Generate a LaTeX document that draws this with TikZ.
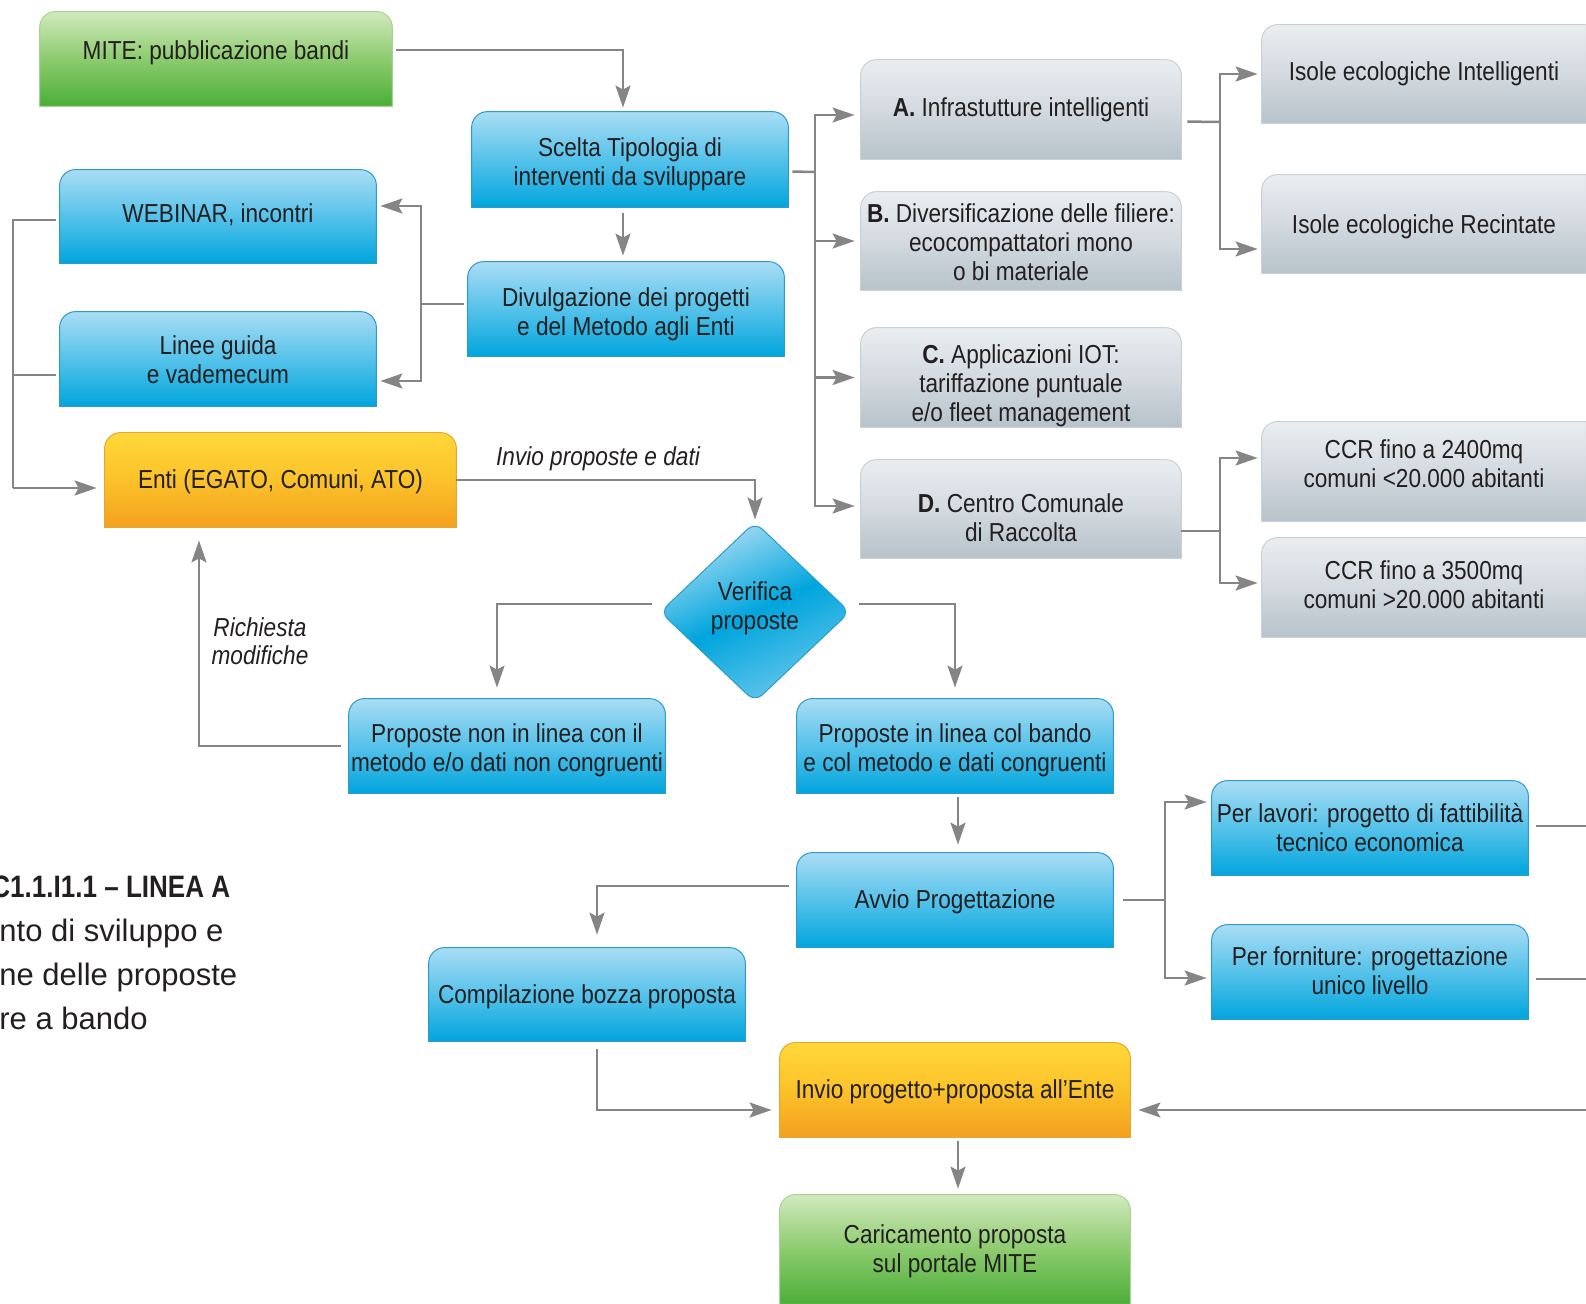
\documentclass[tikz,border=0pt]{standalone}
\usepackage{fontspec}
\setmainfont{Liberation Sans}[FakeStretch=0.87]
\newfontfamily\titlefont{Liberation Sans}
\newfontfamily\titleboldfont{Liberation Sans Bold}[FakeStretch=0.84]
\usetikzlibrary{shapes.geometric,arrows.meta,backgrounds,calc}
\definecolor{bluetop}{HTML}{AADDF4}
\definecolor{bluemid}{HTML}{55C2EA}
\definecolor{bluebot}{HTML}{00A5DD}
\definecolor{blueline}{HTML}{2C9CCB}
\definecolor{greentop}{HTML}{D2EABE}
\definecolor{greenmid}{HTML}{8CCB6E}
\definecolor{greenbot}{HTML}{4BAE38}
\definecolor{greenline}{HTML}{A9D294}
\definecolor{orangetop}{HTML}{FFD83A}
\definecolor{orangemid}{HTML}{FBC22A}
\definecolor{orangebot}{HTML}{F4A01F}
\definecolor{orangeline}{HTML}{E8A62A}
\definecolor{graytop}{HTML}{EAEEF1}
\definecolor{graymid}{HTML}{D3DAE0}
\definecolor{graybot}{HTML}{B7C2CA}
\definecolor{grayline}{HTML}{C9D0D6}
\definecolor{wiregray}{HTML}{858585}
\definecolor{ink}{HTML}{231F20}
\newcommand\tabshape[2]{%
  \path[#2] (#1.south west) -- ([yshift=-8pt]#1.north west)
    arc[start angle=180,end angle=90,radius=8pt]
    -- ([xshift=-8pt]#1.north east)
    arc[start angle=90,end angle=0,radius=8pt]
    -- (#1.south east) -- cycle;}
\newcommand\edgeshape[2]{%
  \path[#2] (#1.south west) -- ([yshift=-8pt]#1.north west)
    arc[start angle=180,end angle=90,radius=8pt]
    -- (#1.north east) -- (#1.south east) -- cycle;}
% struts for a text: #1 = offset in px (positive moves text down)
\newcommand\setstruts[1]{%
  \pgfmathparse{9.6+max(#1,0)}\xdef\myH{\pgfmathresult}%
  \pgfmathparse{2.9+max(-(#1),0)}\xdef\myD{\pgfmathresult}}
\newcommand\sttext[1]{\rule{0pt}{\myH pt}#1\rule[-\myD pt]{0pt}{\myD pt}}
% box node: [offset], name, x1, y1, x2, y2 (pixels), text
\newcommand\bx[7][0]{%
  \setstruts{#1}%
  \node[txt, minimum width={(#5-#3)*0.5pt}, minimum height={(#6-#4)*0.5pt}]
    (#2) at ({(#3+#5)/2},{(#4+#6)/2}) {\sttext{#7}};}
\tikzset{
  txt/.style={inner sep=0pt, align=center, text=ink, font=\fontsize{13}{14.5}\selectfont},
  lbl/.style={inner sep=0pt, align=center, text=ink, font=\fontsize{13}{14}\selectfont\itshape},
  bluefill/.style={top color=bluetop, bottom color=bluebot, middle color=bluemid, draw=blueline, line width=0.5pt},
  greenfill/.style={top color=greentop, bottom color=greenbot, middle color=greenmid, draw=greenline, line width=0.5pt},
  orangefill/.style={top color=orangetop, bottom color=orangebot, middle color=orangemid, draw=orangeline, line width=0.5pt},
  grayfill/.style={top color=graytop, bottom color=graybot, middle color=graymid, draw=grayline, line width=0.5pt},
  wire/.style={draw=wiregray, line width=1.25pt},
  conn/.style={wire, -{Stealth[length=11pt,width=7.5pt,inset=2pt]}},
  title/.style={anchor=base west, inner sep=0pt, text=ink, font=\titlefont\fontsize{15.5}{22}\selectfont},
}
\begin{document}
\begin{tikzpicture}[x=0.5pt,y=-0.5pt]
\useasboundingbox (0,0) rectangle (1586,1304);
% ---------- nodes ----------
\bx[-6]{mite}{40}{12}{392}{106}{MITE: pubblicazione bandi}
\bx[5]{scelta}{472}{112}{788}{207}{Scelta Tipologia di\\interventi da sviluppare}
\bx[-1]{webinar}{60}{170}{376}{263}{WEBINAR, incontri}
\bx[5]{divulg}{468}{262}{784}{356}{Divulgazione dei progetti\\e del Metodo agli Enti}
\bx[3]{linee}{60}{312}{376}{406}{Linee guida\\e vademecum}
\bx[2]{enti}{105}{433}{456}{527}{Enti (EGATO, Comuni, ATO)}
\bx{opA}{861}{60}{1181}{159}{\textbf{A.} Infrastutture intelligenti}
\bx[4]{opB}{861}{192}{1181}{290}{\textbf{B.} Diversificazione delle filiere:\\ecocompattatori mono\\o bi materiale}
\bx[8]{opC}{861}{328}{1181}{427}{\textbf{C.} Applicazioni IOT:\\tariffazione puntuale\\e/o fleet management}
\bx[11]{opD}{861}{460}{1181}{558}{\textbf{D.} Centro Comunale\\di Raccolta}
\bx{isoleI}{1262}{25}{1586}{123}{Isole ecologiche Intelligenti}
\bx[3]{isoleR}{1262}{175}{1586}{273}{Isole ecologiche Recintate}
\bx[-5]{ccrA}{1262}{422}{1586}{521}{CCR fino a 2400mq\\comuni <20.000 abitanti}
\bx{ccrB}{1262}{538}{1586}{637}{CCR fino a 3500mq\\comuni >20.000 abitanti}
\setstruts{-4}
\node[txt, diamond, minimum width=95pt, minimum height=90pt, rounded corners=5pt,
  draw=blueline, line width=0.5pt, top color=bluetop, bottom color=bluetop!60!bluebot,
  middle color=bluebot, shading angle=25] (verifica) at (755,612) {\sttext{Verifica\\proposte}};
\bx[4]{pnon}{349}{699}{665}{793}{Proposte non in linea con il\\metodo e/o dati non congruenti}
\bx[4]{pin}{797}{699}{1113}{793}{Proposte in linea col bando\\e col metodo e dati congruenti}
\bx[2]{avvio}{797}{853}{1113}{947}{Avvio Progettazione}
\bx[2]{compil}{429}{948}{745}{1041}{Compilazione bozza proposta}
\bx[2]{lavori}{1212}{781}{1528}{875}{Per lavori: progetto di fattibilità\\tecnico economica}
\bx[1.5]{forniture}{1212}{925}{1528}{1019}{Per forniture: progettazione\\unico livello}
\bx[2]{invio}{780}{1043}{1130}{1137}{Invio progetto+proposta all’Ente}
\bx[1.5]{carica}{780}{1195}{1130}{1304}{Caricamento proposta\\sul portale MITE}
% labels
\node[lbl] (lInvio) at (598,459) {Invio proposte e dati};
\node[lbl] (lRich) at (260,641) {Richiesta\\modifiche};
% title text (cropped at the left edge in the reference)
\begin{scope}
\clip (0,800) rectangle (400,1060);
\node[title, font=\titleboldfont\fontsize{15.5}{22}\selectfont] (t1) at (-9,897) {C1.1.I1.1 – LINEA A};
\node[title] (t2) at (-1,941) {nto di sviluppo e};
\node[title] (t3) at (-1,985) {ne delle proposte};
\node[title] (t4) at (-1,1029) {re a bando};
\end{scope}
% ---------- box backgrounds ----------
\begin{pgfonlayer}{background}
\foreach \n in {scelta,webinar,divulg,linee,pnon,pin,avvio,compil,lavori,forniture} {\tabshape{\n}{bluefill}}
\foreach \n in {mite,carica} {\tabshape{\n}{greenfill}}
\foreach \n in {enti,invio} {\tabshape{\n}{orangefill}}
\foreach \n in {opA,opB,opC,opD} {\tabshape{\n}{grayfill}}
\foreach \n in {isoleI,isoleR,ccrA,ccrB} {\edgeshape{\n}{grayfill}}
\end{pgfonlayer}
% ---------- connectors ----------
\coordinate (sb) at (815,172);
\coordinate (ab) at (1220,122);
\coordinate (db) at (1220,531);
\coordinate (vb) at (421,304);
\coordinate (lb) at (13,488);
\coordinate (pb) at (1165,900);
\coordinate (e1) at (1586,826);
\coordinate (e2) at (1586,979);
\coordinate (e3) at (1586,1110);
\draw[conn, shorten <=2pt, shorten >=2pt] ([yshift=4.5pt]mite.east) -| ([xshift=-3.5pt]scelta.north);
\draw[conn, shorten <=3pt, shorten >=3pt] ([xshift=-3.5pt]scelta.south) -- ([xshift=-3.5pt]scelta.south |- divulg.north);
\draw[wire, shorten <=2pt] ([yshift=-6pt]scelta.east) -- (sb);
\draw[conn, shorten >=3pt] (sb) |- ([yshift=-2.75pt]opA.west);
\draw[conn, shorten >=3pt] (sb) |- (opB.west);
\draw[conn, shorten >=3pt] (sb) |- (opC.west);
\draw[conn, shorten >=3pt] (sb) |- ([yshift=1.5pt]opD.west);
\draw[wire, shorten <=3pt] ([yshift=-6pt]opA.east) -- (ab);
\draw[conn, shorten >=2pt] (ab) |- ([yshift=0pt]isoleI.west);
\draw[conn, shorten >=2pt] (ab) |- ([yshift=-12.5pt]isoleR.west);
\draw[wire] ([yshift=-11pt]opD.east) -- (db);
\draw[conn, shorten >=2pt] (db) |- ([yshift=6.75pt]ccrA.west);
\draw[conn, shorten >=2pt] (db) |- ([yshift=2.25pt]ccrB.west);
\draw[wire, shorten <=2pt] ([yshift=2.5pt]divulg.west) -- (vb);
\draw[conn, shorten >=2pt] (vb) |- ([yshift=5.25pt]webinar.east);
\draw[conn, shorten >=2pt] (vb) |- ([yshift=-11pt]linee.east);
\draw[wire, shorten <=2pt] ([yshift=-1.75pt]webinar.west) -| (lb);
\draw[wire, shorten <=2pt] ([yshift=-8pt]linee.west) -| (lb);
\draw[conn, shorten >=4pt] (lb) -- ([yshift=-4pt]enti.west);
\draw[conn, shorten >=1pt] (enti.east) -| (verifica.north);
\draw[conn, shorten <=4pt, shorten >=5.5pt] ([yshift=4pt]verifica.west) -| ([xshift=-5pt]pnon.north);
\draw[conn, shorten <=4pt, shorten >=5.5pt] ([yshift=4pt]verifica.east) -| (pin.north);
\draw[conn, shorten <=4pt, shorten >=6.5pt] (pnon.west) -| ([xshift=-40.75pt]enti.south);
\draw[conn, shorten <=2pt, shorten >=4pt] ([xshift=1.5pt]pin.south) -- ([xshift=1.5pt]avvio.north);
\draw[conn, shorten <=4pt, shorten >=6.5pt] ([yshift=7pt]avvio.west) -| ([xshift=5pt]compil.north);
\draw[wire, shorten <=5pt] (avvio.east) -- (pb);
\draw[conn, shorten >=2.5pt] (pb) |- ([yshift=13pt]lavori.west);
\draw[conn, shorten >=2.5pt] (pb) |- ([yshift=-3pt]forniture.west);
\draw[wire, shorten <=4pt] ([yshift=1pt]lavori.east) -- (e1);
\draw[wire, shorten <=4pt] ([yshift=-3.5pt]forniture.east) -- (e2);
\draw[conn, shorten <=4pt, shorten >=4pt] ([xshift=5pt]compil.south) |- ([yshift=-10pt]invio.west);
\draw[conn, shorten >=4pt] (e3) -- ([yshift=-10pt]invio.east);
\draw[conn, shorten <=2pt, shorten >=3pt] ([xshift=1.5pt]invio.south) -- ([xshift=1.5pt]carica.north);
\end{tikzpicture}
\end{document}
